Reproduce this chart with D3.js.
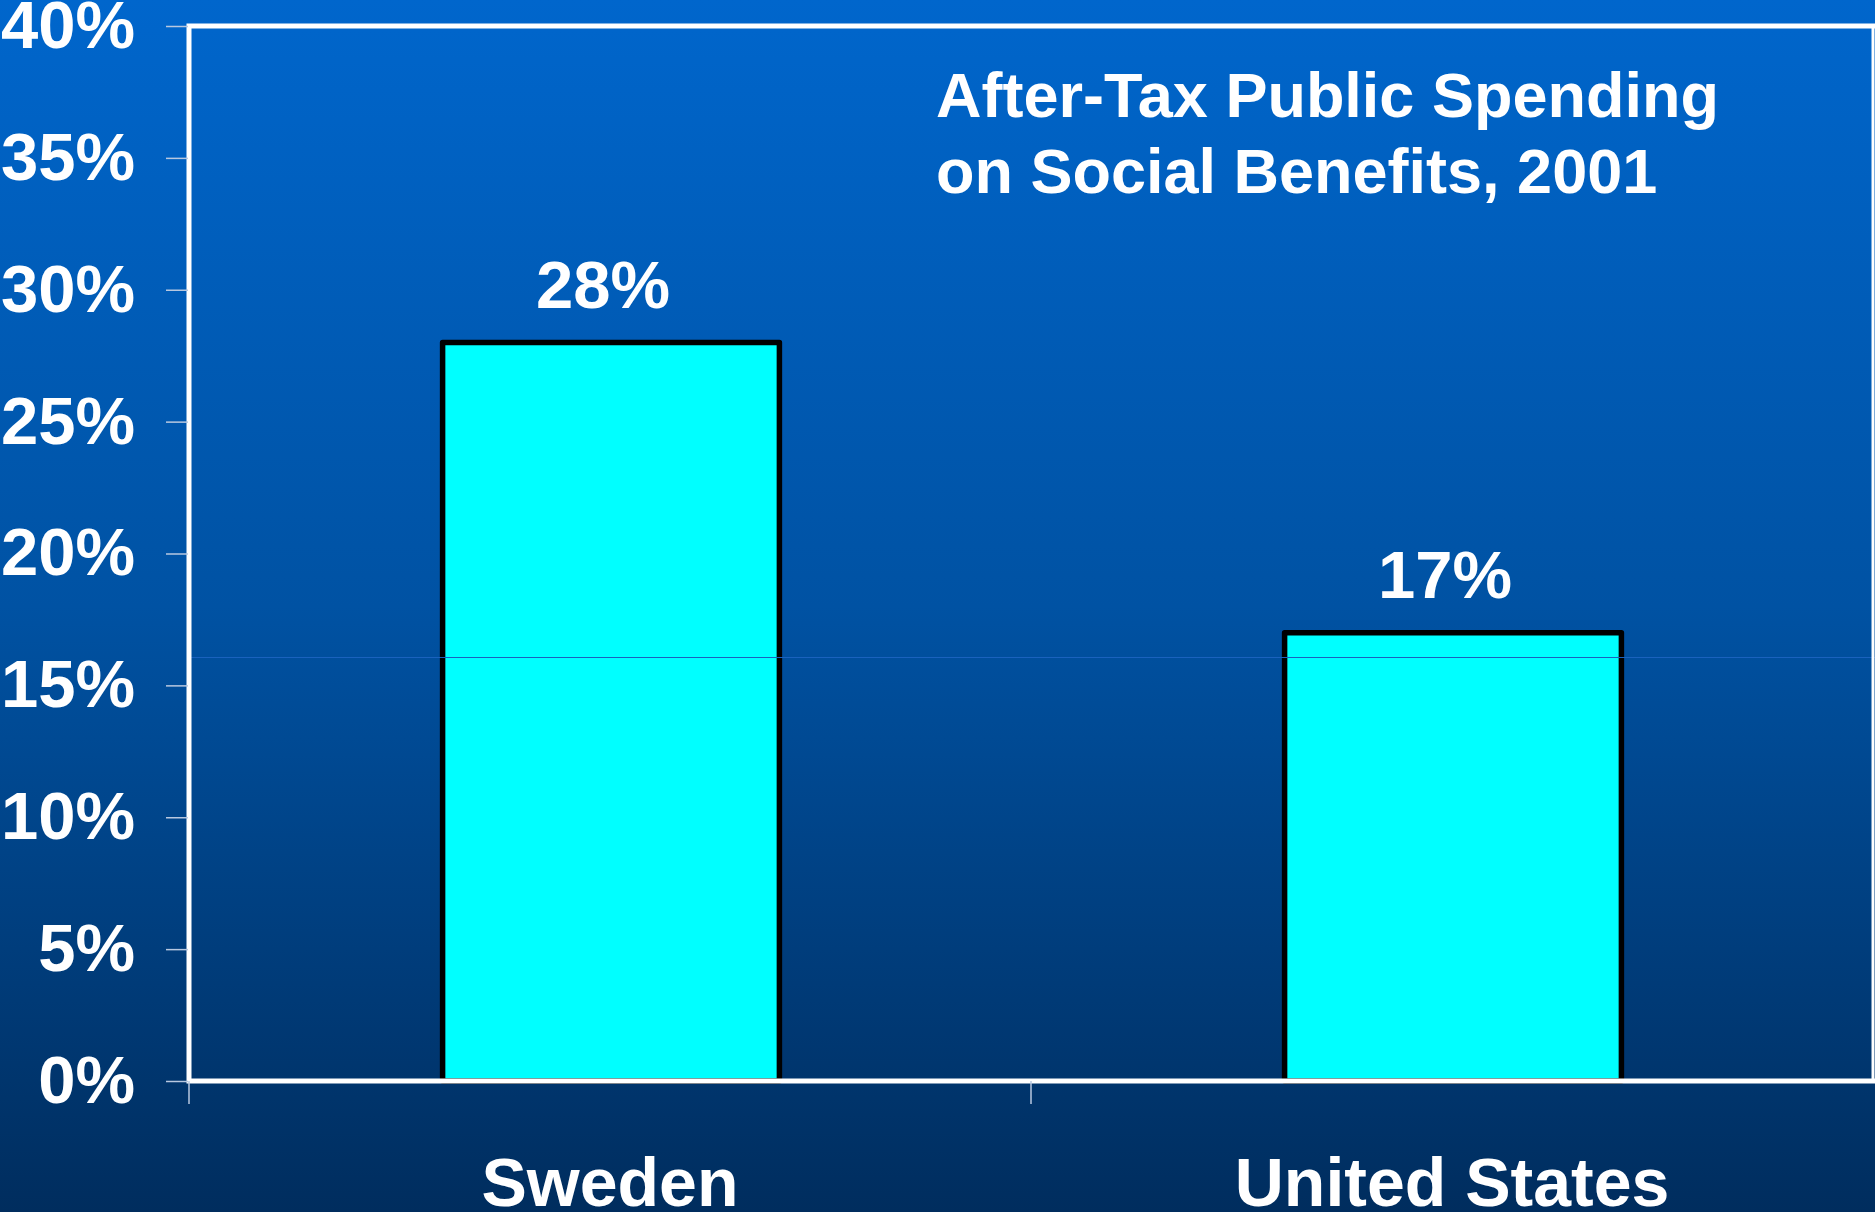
<!DOCTYPE html>
<html>
	<head>
		<title>After-Tax Public Spending on Social Benefits</title>
		<script src="https://d3js.org/d3.v7.min.js"></script>

		<style>
			body {
			  margin: 0;
			  overflow: hidden;
			}

			text {
			  font-family: "Liberation Sans", Arial, Helvetica, sans-serif;
			  font-weight: bold;
			  fill: #fff;
			}
		</style>
	</head>

	<body>

		<svg width="1875" height="1212">
		</svg>

		<script type="text/javascript">
			var countries = ["Sweden", "United States"];
			var spending = [28, 17];
			var yTicks = [0, 5, 10, 15, 20, 25, 30, 35, 40];
			var titleLines = ["After-Tax Public Spending", "on Social Benefits, 2001"];

			var svg = d3.select("svg"),
			    width = +svg.attr("width"),
			    height = +svg.attr("height");

			var plotLeft = 189, plotTop = 26, plotRight = 1873, plotBottom = 1081;

			// background gradient
			var grad = svg.append("defs").append("linearGradient")
			    .attr("id", "bg")
			    .attr("x1", 0).attr("y1", 0)
			    .attr("x2", 0).attr("y2", 1);
			grad.append("stop").attr("offset", "0%").attr("stop-color", "#0066cc");
			grad.append("stop").attr("offset", "50%").attr("stop-color", "#0052a3");
			grad.append("stop").attr("offset", "100%").attr("stop-color", "#002d5e");

			svg.append("rect")
			    .attr("width", width)
			    .attr("height", height)
			    .attr("fill", "url(#bg)");

			var x = d3.scaleBand()
			    .domain(countries)
			    .range([plotLeft, plotRight]);

			var y = d3.scaleLinear()
			    .domain([0, 40])
			    .range([plotBottom, plotTop]);

			var barWidth = x.bandwidth() * 0.40;

			// bars
			svg.selectAll(".bar")
			    .data(countries)
			    .enter()
			    .append("rect")
			    .attr("class", "bar")
			    .attr("x", function(d) { return x(d) + x.bandwidth() / 2 - barWidth / 2 + 1; })
			    .attr("y", function(d, i) { return y(spending[i]); })
			    .attr("width", barWidth)
			    .attr("height", function(d, i) { return plotBottom - y(spending[i]); })
			    .attr("fill", "#00ffff")
			    .attr("stroke", "#000")
			    .attr("stroke-width", 5.5)
			    .attr("stroke-linejoin", "round");

			// faint seam line across the plot
			svg.append("line")
			    .attr("x1", plotLeft).attr("x2", width)
			    .attr("y1", Math.round(y(16.07)) + 0.5)
			    .attr("y2", Math.round(y(16.07)) + 0.5)
			    .attr("stroke", "#1a62bd")
			    .attr("stroke-width", 1);

			// value labels
			svg.selectAll(".val")
			    .data(countries)
			    .enter()
			    .append("text")
			    .attr("class", "val")
			    .attr("x", function(d) { return x(d) + x.bandwidth() / 2 - 7; })
			    .attr("y", function(d, i) { return y(spending[i]) - 35; })
			    .attr("text-anchor", "middle")
			    .style("font-size", "67px")
			    .text(function(d, i) { return spending[i] + "%"; });

			// frame
			svg.append("rect")
			    .attr("x", plotLeft)
			    .attr("y", plotTop)
			    .attr("width", width - plotLeft + 10)
			    .attr("height", plotBottom - plotTop)
			    .attr("fill", "none")
			    .attr("stroke", "#fff")
			    .attr("stroke-width", 5);

			svg.append("line")
			    .attr("x1", width - 2).attr("x2", width - 2)
			    .attr("y1", plotTop).attr("y2", plotBottom)
			    .attr("stroke", "#fff")
			    .attr("stroke-width", 3);

			// y axis
			var yAxis = svg.append("g")
			    .attr("transform", "translate(" + (plotLeft - 1) + ",0)")
			    .call(d3.axisLeft(y)
			        .tickValues(yTicks)
			        .tickSize(22)
			        .tickPadding(31)
			        .tickFormat(function(d) { return d + "%"; }));

			yAxis.select(".domain").remove();
			yAxis.selectAll(".tick line")
			    .attr("stroke", "#b8c8e0")
			    .attr("stroke-width", 1.5);
			yAxis.selectAll(".tick text")
			    .attr("fill", "#fff")
			    .style("font-size", "67px")
			    .style("font-family", "'Liberation Sans', Arial, sans-serif")
			    .style("font-weight", "bold");

			// x axis ticks at band edges
			svg.selectAll(".xtick")
			    .data(countries)
			    .enter()
			    .append("line")
			    .attr("class", "xtick")
			    .attr("x1", function(d) { return x(d); })
			    .attr("x2", function(d) { return x(d); })
			    .attr("y1", plotBottom)
			    .attr("y2", plotBottom + 23)
			    .attr("stroke", "#b8c8e0")
			    .attr("stroke-width", 1.5);

			// category labels
			var xAxis = svg.append("g")
			    .attr("transform", "translate(0," + plotBottom + ")")
			    .call(d3.axisBottom(x).tickSize(0).tickPadding(77));

			xAxis.select(".domain").remove();
			xAxis.selectAll(".tick text")
			    .attr("fill", "#fff")
			    .style("font-size", "68px")
			    .style("font-family", "'Liberation Sans', Arial, sans-serif")
			    .style("font-weight", "bold");

			// title
			svg.append("text")
			    .attr("x", 936)
			    .attr("y", 117)
			    .style("font-size", "63px")
			    .selectAll("tspan")
			    .data(titleLines)
			    .enter()
			    .append("tspan")
			    .attr("x", 936)
			    .attr("dy", function(d, i) { return i === 0 ? 0 : 76; })
			    .text(function(d) { return d; });

		</script>

	</body>
</html>
